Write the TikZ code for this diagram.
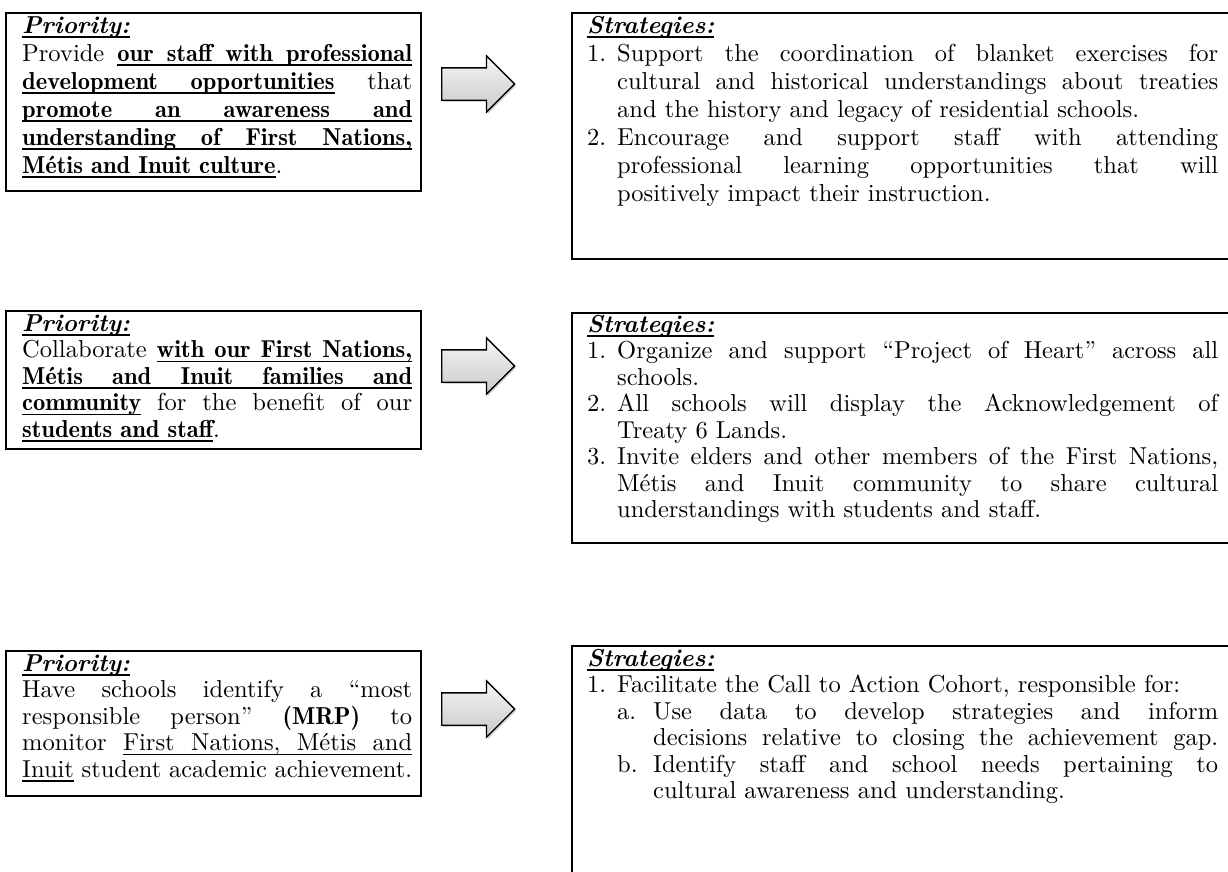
\documentclass[tikz,border=0pt]{standalone}
\usepackage{fontspec}
\setmainfont{lmroman10-regular.otf}[
  BoldFont=lmromandemi10-regular.otf,
  ItalicFont=lmroman10-italic.otf,
  BoldItalicFont=lmroman10-bolditalic.otf]
\usetikzlibrary{shapes.arrows,shadows}
\def\ULspace{\leaders\hrule height-3pt depth4.8pt\hskip\fontdimen2\font plus\fontdimen3\font minus\fontdimen4\font\relax}
\def\ULword#1{\setbox0\hbox{#1}\rlap{\vrule height-3pt depth4.8pt width\wd0\relax}\box0\relax}
\def\UL#1{\ULloop#1 \ULstop}
\def\ULloop#1 #2\ULstop{\ULword{#1}\if\relax\detokenize{#2}\relax\else\ULspace\ULloop#2\ULstop\fi}
\newlength\numw \setlength\numw{30pt}
\newlength\subw \setlength\subw{36pt}
\newcommand\JLine[1]{\hbox to\hsize{#1}}
\newcommand\LLine[1]{\hbox to\hsize{#1\hfil}}
\newcommand\NumJ[2]{\hbox to\hsize{\hbox to\numw{#1\hfil}#2}}
\newcommand\NumL[2]{\hbox to\hsize{\hbox to\numw{#1\hfil}#2\hfil}}
\newcommand\ContJ[1]{\hbox to\hsize{\hskip\numw\relax #1}}
\newcommand\ContL[1]{\hbox to\hsize{\hskip\numw\relax #1\hfil}}
\newcommand\SubJ[2]{\hbox to\hsize{\hskip\numw\relax\hbox to\subw{#1\hfil}#2}}
\newcommand\SubCJ[1]{\hbox to\hsize{\hskip\numw\relax\hskip\subw\relax #1}}
\newcommand\SubCL[1]{\hbox to\hsize{\hskip\numw\relax\hskip\subw\relax #1\hfil}}
\newcommand\BlockText[3]{\vtop{\hsize=#1\relax\fontsize{24.5}{#2}\selectfont\frenchspacing #3}}
\newcommand\Head[1]{\textbf{\textit{\UL{#1}}}}
\newcommand\Bd[1]{\textbf{#1}}
\newcommand\BU[1]{\textbf{\UL{#1}}}
\begin{document}
\begin{tikzpicture}[x=1pt,y=-1pt,
  frame/.style={draw=black,line width=1.8pt,inner sep=0pt,anchor=north west},
  txt/.style={inner sep=0pt,anchor=base west},
  bigarrow/.style={single arrow,draw=black,line width=1.3pt,
    single arrow head extend=12pt,minimum height=73pt,
    inner xsep=0pt,inner ysep=15.5pt,
    top color=gray!8,bottom color=gray!42,
    drop shadow={shadow xshift=1.6pt,shadow yshift=-1.6pt,opacity=0.35},
    anchor=tail}]
\path[use as bounding box] (0,0) rectangle (1228,871);
\clip (0,0) rectangle (1228,871);

% frames
\node[frame,minimum width=415pt,minimum height=178pt] (p1) at (5,12) {};
\node[frame,minimum width=670pt,minimum height=246pt] (s1) at (571,12) {};
\node[frame,minimum width=415pt,minimum height=138pt] (p2) at (5,310) {};
\node[frame,minimum width=670pt,minimum height=230pt] (s2) at (571,312) {};
\node[frame,minimum width=415pt,minimum height=145pt] (p3) at (5,650) {};
\node[frame,minimum width=670pt,minimum height=260pt] (s3) at (571,645) {};

% arrows
\node[bigarrow] (a1) at (441,84) {};
\node[bigarrow] (a2) at (441,366) {};
\node[bigarrow] (a3) at (441,709) {};

% priority 1
\node[txt] (p1t) at (22,33) {\BlockText{390pt}{28}{%
\LLine{\Head{Priority:}}
\JLine{Provide \BU{our staff with professional}}
\JLine{\BU{development opportunities} that}
\JLine{\BU{promote an awareness and}}
\JLine{\BU{understanding of First Nations,}}
\LLine{\BU{Métis and Inuit culture}.}}};

% strategies 1
\node[txt] (s1t) at (587,33) {\BlockText{631pt}{28}{%
\LLine{\Head{Strategies:}}
\NumJ{1.}{Support the coordination of blanket exercises for}
\ContJ{cultural and historical understandings about treaties}
\ContL{and the history and legacy of residential schools.}
\NumJ{2.}{Encourage and support staff with attending}
\ContJ{professional learning opportunities that will}
\ContL{positively impact their instruction.}}};

% priority 2
\node[txt] (p2t) at (22,331) {\BlockText{390pt}{26.5}{%
\LLine{\Head{Priority:}}
\JLine{Collaborate \BU{with our First Nations,}}
\JLine{\BU{Métis and Inuit families and}}
\JLine{\BU{community} for the benefit of our}
\LLine{\BU{students and staff}.}}};

% strategies 2
\node[txt] (s2t) at (587,332) {\BlockText{631pt}{26.5}{%
\LLine{\Head{Strategies:}}
\NumJ{1.}{Organize and support “Project of Heart” across all}
\ContL{schools.}
\NumJ{2.}{All schools will display the Acknowledgement of}
\ContL{Treaty 6 Lands.}
\NumJ{3.}{Invite elders and other members of the First Nations,}
\ContJ{Métis and Inuit community to share cultural}
\ContL{understandings with students and staff.}}};

% priority 3
\node[txt] (p3t) at (22,671) {\BlockText{390pt}{26.5}{%
\LLine{\Head{Priority:}}
\JLine{Have schools identify a “most}
\JLine{responsible person” \Bd{(MRP)} to}
\JLine{monitor \UL{First Nations, Métis and}}
\LLine{\UL{Inuit} student academic achievement.}}};

% strategies 3
\node[txt] (s3t) at (587,666) {\BlockText{631pt}{26.5}{%
\LLine{\Head{Strategies:}}
\NumL{1.}{Facilitate the Call to Action Cohort, responsible for:}
\SubJ{a.}{Use data to develop strategies and inform}
\SubCJ{decisions relative to closing the achievement gap.}
\SubJ{b.}{Identify staff and school needs pertaining to}
\SubCL{cultural awareness and understanding.}}};
\end{tikzpicture}
\end{document}
